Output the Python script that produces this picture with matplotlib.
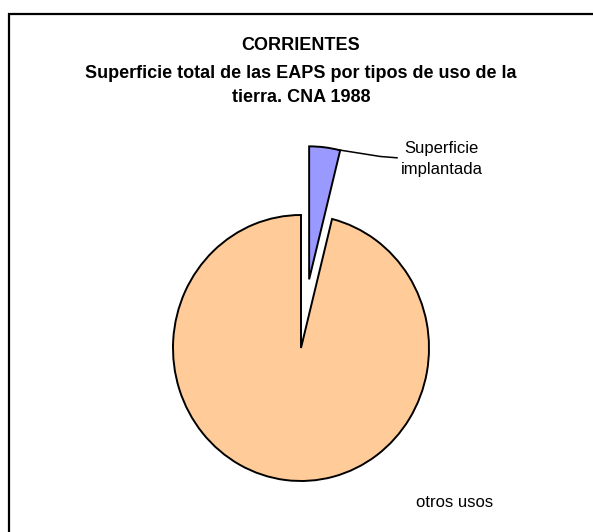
import numpy as np
import matplotlib
matplotlib.use("Agg")
import matplotlib.pyplot as plt
from matplotlib.patches import Rectangle

plt.rcParams["font.family"] = ["Liberation Sans", "DejaVu Sans"]

labels = ["Superficie\nimplantada", "otros usos"]
values = [3.9, 96.1]
colors = ["#9999FF", "#FFCC99"]
explode = [0.52, 0.0]

W, H = 593, 532
fig = plt.figure(figsize=(W / 100, H / 100), dpi=100)

# outer frame (right/bottom run off the picture)
fig.patches.append(Rectangle((9 / W, -0.05), 1.2, 1 - 14 / H + 0.05,
                             transform=fig.transFigure, fill=False,
                             edgecolor="black", lw=1.6))

fig.text(301 / W, 1 - 45 / H, "CORRIENTES", ha="center", va="center",
         fontsize=13, fontweight="bold")
fig.text(301 / W, 1 - 73 / H, "Superficie total de las EAPS por tipos de uso de la",
         ha="center", va="center", fontsize=13, fontweight="bold")
fig.text(301 / W, 1 - 97 / H, "tierra. CNA 1988",
         ha="center", va="center", fontsize=13, fontweight="bold")

# pie centre / radii in pixels (slightly elliptical like the original)
cx, cy, rx, ry = 301, 348, 128, 133
ax = fig.add_axes([(cx - rx) / W, (H - cy - ry) / H, 2 * rx / W, 2 * ry / H])

wedges, _ = ax.pie(values, colors=colors, explode=explode, startangle=90,
                   counterclock=False, radius=1,
                   wedgeprops=dict(edgecolor="black", linewidth=1.4))
for w in wedges:
    w.set_clip_on(False)
ax.set_xlim(-1, 1)
ax.set_ylim(-1, 1)
ax.set_aspect("auto")
ax.axis("off")

# leader line for small slice
w0 = wedges[0]
ang = np.deg2rad(w0.theta1 + 1)
x0 = w0.center[0] + np.cos(ang)
y0 = w0.center[1] + np.sin(ang)
ax.plot([x0, 0.62, 0.75], [y0, 1.44, 1.43], color="black", lw=1.1,
        clip_on=False)

ax.text(1.10, 1.42, labels[0], ha="center", va="center", fontsize=12,
        linespacing=1.5)
ax.text(1.20, -1.16, labels[1], ha="center", va="center", fontsize=12)

fig.savefig("out.png", dpi=100)
